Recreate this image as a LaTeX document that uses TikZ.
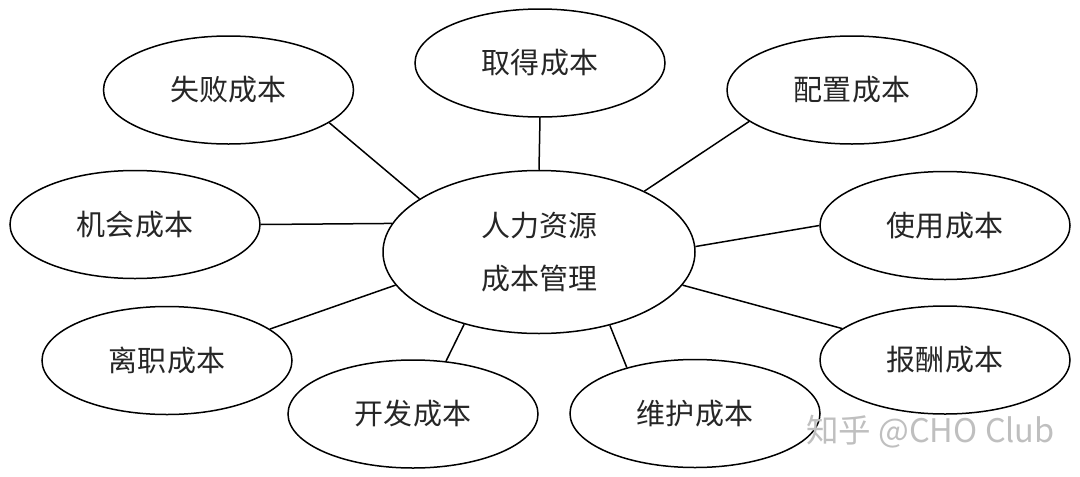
\documentclass[tikz,border=0pt]{standalone}
\usepackage{fontspec}
\newfontfamily\cjk{Noto Sans CJK SC}
\usetikzlibrary{shapes.geometric}
\tikzset{
  bubble/.style={ellipse, draw=black, line width=1.5pt, fill=white, inner sep=0pt,
    minimum width=250pt, minimum height=108pt,
    font=\cjk\fontsize{29}{35}\selectfont, text=black!85},
  hub/.style={bubble, minimum width=312pt, minimum height=163pt,
    align=center, font=\cjk\fontsize{29}{53}\selectfont},
  link/.style={line width=1.5pt, draw=black},
  wmark/.style={font=\cjk\fontsize{32.5}{38}\selectfont, text=black!25, inner sep=0pt}
}
\begin{document}
\begin{tikzpicture}[x=1pt,y=-1pt]
\useasboundingbox[fill=white] (0,0) rectangle (1080,477);
\node[hub] (c) at (539,252) {人力资源\\成本管理};
\node[bubble] (fail) at (228.5,90) {失败成本};
\node[bubble] (get)  at (540,63)   {取得\hspace{2pt}成本};
\node[bubble] (cfg)  at (852,90)   {配置\hspace{2pt}成本};
\node[bubble] (opp)  at (135,224.5) {机会\hspace{2pt}成本};
\node[bubble] (use)  at (945,225.5) {使用\hspace{2pt}成本};
\node[bubble] (quit) at (167,360.5) {离职\hspace{2pt}成本};
\node[bubble] (pay)  at (945,360)  {报酬\hspace{2pt}成本};
\node[bubble] (dev)  at (413,414)  {开发\hspace{2pt}成本};
\node[bubble] (keep) at (695,413.5) {维护\hspace{2pt}成本};
\draw[link] (c.156.9) -- (fail.342.1);
\draw[link] (c.90) -- (get.270);
\draw[link] (c.30.3) -- (cfg.197.2);
\draw[link] (c.169.4) -- (opp.0);
\draw[link] (c.2.2) -- (use.180);
\draw[link] (c.193.2) -- (quit.17.4);
\draw[link] (c.347.1) -- (pay.163.8);
\draw[link] (c.224.3) -- (dev.58.2);
\draw[link] (c.314.6) -- (keep.146.8);
\node[wmark, anchor=west] (wm) at (806,432) {知乎 @CHO Club};
\end{tikzpicture}
\end{document}
